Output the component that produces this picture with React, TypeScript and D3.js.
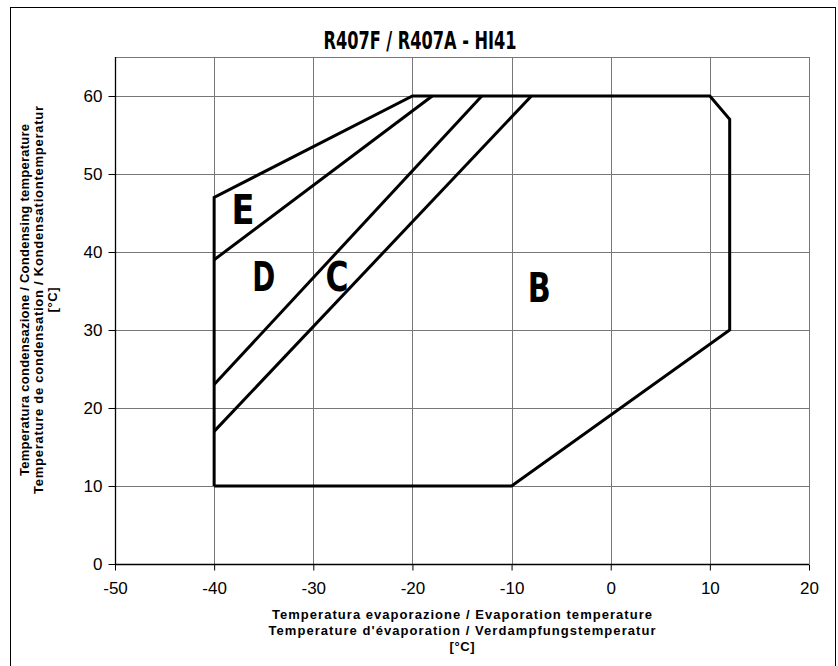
import { useEffect, useRef } from 'react'
import * as d3 from 'd3'

// envelope B (outer limits), evaporating / condensing temperature in °C
const envelopeX = [-40, -40, -20, 10, 12, 12, -10, -40]
const envelopeY = [10, 47, 60, 60, 57, 30, 10, 10]

// zone boundaries inside the envelope
const boundaryNames = ['E/D', 'D/C', 'C/B']
const boundaryX = [[-40, -18], [-40, -13], [-40, -8]]
const boundaryY = [[39, 60], [23, 60], [17, 60]]

// zone letters
const zoneNames = ['E', 'D', 'C', 'B']
const zoneX = [-37.1, -35.0, -27.6, -7.2]
const zoneY = [43.6, 35.0, 35.0, 33.6]

const xTicks = [-50, -40, -30, -20, -10, 0, 10, 20]
const yTicks = [0, 10, 20, 30, 40, 50, 60]

const title = 'R407F / R407A - HI41'
const xTitle = [
  'Temperatura evaporazione / Evaporation temperature',
  "Temperature d'évaporation / Verdampfungstemperatur",
  '[°C]',
]
const yTitle = [
  'Temperatura condensazione / Condensing temperature',
  'Temperature de condensation / Kondensationtemperatur',
  '[°C]',
]

const W = 838
const H = 666
const narrow = "'Liberation Sans Narrow', 'DejaVu Sans Condensed', 'Arial Narrow', sans-serif"
const sans = "'Liberation Sans', Arial, Helvetica, sans-serif"

function App() {
  const svgRef = useRef<SVGSVGElement | null>(null)

  useEffect(() => {
    if (!svgRef.current) return
    const svg = d3.select(svgRef.current)
    svg.selectAll('*').remove()

    const left = 115
    const right = 809
    const top = 57
    const bottom = 564

    const x = d3.scaleLinear().domain([-50, 20]).range([left, right])
    const y = d3.scaleLinear().domain([0, 65]).range([bottom, top])

    svg.append('rect')
      .attr('x', 0).attr('y', 0).attr('width', W).attr('height', H)
      .attr('fill', '#fff')

    // outer frame
    svg.append('rect')
      .attr('x', 10.5).attr('y', 7.5)
      .attr('width', 825).attr('height', 670)
      .attr('fill', 'none')
      .attr('stroke', '#000')
      .attr('stroke-width', 1)

    // title
    svg.append('text')
      .attr('x', 420).attr('y', 49)
      .attr('text-anchor', 'middle')
      .attr('font-family', narrow)
      .attr('font-weight', 'bold')
      .attr('font-size', 25)
      .attr('textLength', 193)
      .attr('lengthAdjust', 'spacingAndGlyphs')
      .text(title)

    const g = svg.append('g')

    // grid
    g.selectAll('line.vgrid')
      .data(xTicks.slice(1))
      .join('line')
      .attr('x1', d => Math.round(x(d)) + 0.5)
      .attr('x2', d => Math.round(x(d)) + 0.5)
      .attr('y1', top).attr('y2', bottom)
      .attr('stroke', '#777')
      .attr('stroke-width', 1)

    g.selectAll('line.hgrid')
      .data([...yTicks.slice(1), 65])
      .join('line')
      .attr('x1', left).attr('x2', right)
      .attr('y1', d => Math.round(y(d)) + 0.5)
      .attr('y2', d => Math.round(y(d)) + 0.5)
      .attr('stroke', '#777')
      .attr('stroke-width', 1)

    // axes
    const fmt = (d: d3.NumberValue) => String(d)
    const xAxis = d3.axisBottom(x).tickValues(xTicks).tickFormat(fmt).tickSize(6).tickPadding(11)
    const yAxis = d3.axisLeft(y).tickValues(yTicks).tickFormat(fmt).tickSize(7).tickPadding(6)

    const xa = svg.append('g')
      .attr('transform', `translate(0,${bottom + 0.5})`)
      .call(xAxis)
    const ya = svg.append('g')
      .attr('transform', `translate(${left + 0.5},0)`)
      .call(yAxis)

    for (const a of [xa, ya]) {
      a.select('.domain').attr('stroke', '#000').attr('stroke-width', 1.3)
      a.selectAll('.tick line').attr('stroke', '#000')
      a.selectAll('.tick text')
        .attr('fill', '#000')
        .attr('font-family', sans)
        .attr('font-size', 17)
    }
    xa.select('.domain').attr('d', `M${left},0H${right}`)
    ya.select('.domain').attr('d', `M0,${bottom}V${top}`)

    // envelope
    const line = d3.line<number>()
      .x(i => x(envelopeX[i]))
      .y(i => y(envelopeY[i]))

    g.append('path')
      .datum(d3.range(envelopeX.length))
      .attr('d', line)
      .attr('fill', 'none')
      .attr('stroke', '#000')
      .attr('stroke-width', 3)
      .attr('stroke-linejoin', 'miter')

    // zone boundaries
    boundaryNames.forEach((name, k) => {
      g.append('path')
        .datum(d3.range(2))
        .attr('class', `boundary-${name}`)
        .attr('d', d3.line<number>()
          .x(i => x(boundaryX[k][i]))
          .y(i => y(boundaryY[k][i])))
        .attr('fill', 'none')
        .attr('stroke', '#000')
        .attr('stroke-width', 3)
    })

    // zone letters
    g.selectAll('text.zone')
      .data(zoneNames)
      .join('text')
      .attr('x', (_, i) => x(zoneX[i]))
      .attr('y', (_, i) => y(zoneY[i]))
      .attr('text-anchor', 'middle')
      .attr('font-family', narrow)
      .attr('font-weight', 'bold')
      .attr('font-size', 40)
      .attr('textLength', 23)
      .attr('lengthAdjust', 'spacingAndGlyphs')
      .attr('fill', '#000')
      .text(d => d)

    // axis titles
    const cx = (left + right) / 2
    const xLen = [380, 387, 25]
    xTitle.forEach((t, i) => {
      svg.append('text')
        .attr('x', cx)
        .attr('y', 619 + i * 16)
        .attr('text-anchor', 'middle')
        .attr('font-family', sans)
        .attr('font-weight', 'bold')
        .attr('font-size', 13)
        .attr('textLength', xLen[i])
        .text(t)
    })

    const cy = 300
    const yLen = [352, 388, 25]
    yTitle.forEach((t, i) => {
      svg.append('text')
        .attr('transform', `translate(${29 + i * 14},${cy}) rotate(-90)`)
        .attr('text-anchor', 'middle')
        .attr('font-family', sans)
        .attr('font-weight', 'bold')
        .attr('font-size', 13)
        .attr('textLength', yLen[i])
        .text(t)
    })
  }, [])

  return (
    <svg
      ref={svgRef}
      width={W}
      height={H}
      style={{ position: 'absolute', left: 0, top: 0, display: 'block' }}
    />
  )
}

export default App
